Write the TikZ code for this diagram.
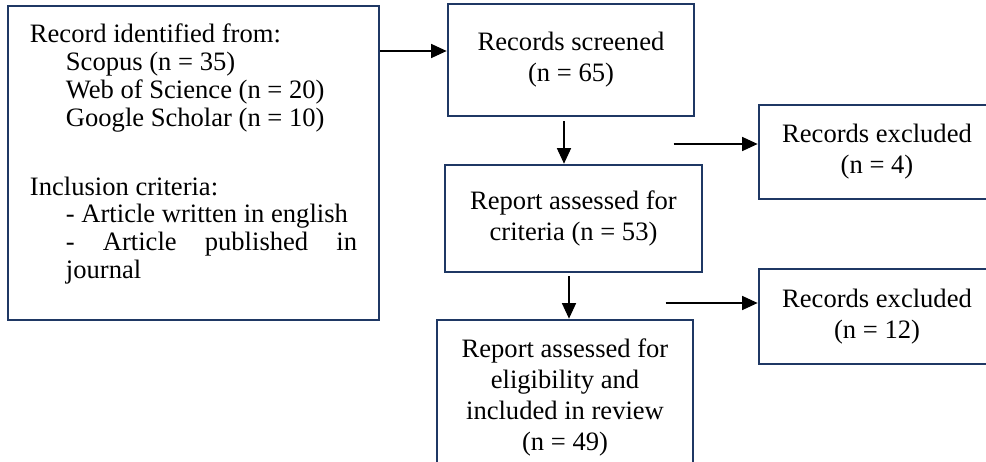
\documentclass[tikz,border=0pt]{standalone}
\usepackage{fontspec}
\setmainfont{Liberation Serif}
\usepackage{tikz}
\usetikzlibrary{
    arrows.meta,
    calc,
    positioning
}
\definecolor{boxblue}{RGB}{31,56,100}

\begin{document}
\begin{tikzpicture}[x=0.025cm, y=-0.025cm,
        box/.style={draw=boxblue, line width=1.9pt, align=center, inner sep=0pt,
            font=\fontsize{18.9}{22}\selectfont},
        arr/.style={-{Triangle[length=11pt, width=10pt]}, line width=0.8pt}]
                            \useasboundingbox (0, 0) rectangle (986, 461);
                            \clip (0, 0) rectangle (986, 461);
                            \node[box, minimum width=263.9pt, minimum height=223.3pt] (ident) at (193.5, 163) {%
                                \begin{minipage}[t][223.3pt][t]{232.6pt}
                                    \fontsize{18.9}{19.9}\selectfont\raggedright
                                    \vspace*{13pt}
                                    Record identified from:\\
                                    \hspace*{25.6pt}Scopus (n = 35)\\
                                    \hspace*{25.6pt}Web of Science (n = 20)\\
                                    \hspace*{25.6pt}Google Scholar (n = 10)\\[28.5pt]
                                    Inclusion criteria:\\
                                    \hspace*{25.6pt}- Article written in english\\
                                    \hspace*{25.6pt}\makebox[207pt][s]{- Article published in}\\
                                    \hspace*{25.6pt}journal
                                \end{minipage}};
                            \node[box, minimum width=175pt, minimum height=79.7pt] (screen) at (571, 60) {Records screened\\(n = 65)};
                            \node[box, minimum width=182.8pt, minimum height=76.1pt] (criteria) at (573.5, 218.5) {Report assessed for\\criteria (n = 53)};
                            \node[box, minimum width=182.1pt, minimum height=110.3pt] (review) at (565, 397.5) {Report assessed for\\eligibility and\\included in review\\(n = 49)};
                            \node[box, minimum width=167.9pt, minimum height=66.9pt] (excl1) at (877, 152) {Records excluded\\(n = 4)};
                            \node[box, minimum width=167.9pt, minimum height=67.6pt] (excl2) at (877, 316.5) {Records excluded\\(n = 12)};
                            \coordinate (sin) at ($(screen.west)+(0, -9)$);
                            \coordinate (s1) at ($(screen.south)+(-7, 4)$);
                            \coordinate (c1) at ($(criteria.south)+(-4.5, 3)$);
                            \coordinate (e1) at ($(excl1.west)+(-84, -8)$);
                            \coordinate (e2) at ($(excl2.west)+(-92, -13.5)$);
                            \draw
                            (ident.east |- sin) edge[arr] (sin)
                            (s1) edge[arr] (s1 |- criteria.north)
                            (c1) edge[arr] (c1 |- review.north)
                            (e1) edge[arr] (e1 -| excl1.west)
                            (e2) edge[arr] (e2 -| excl2.west);
                        \end{tikzpicture}
\end{document}
